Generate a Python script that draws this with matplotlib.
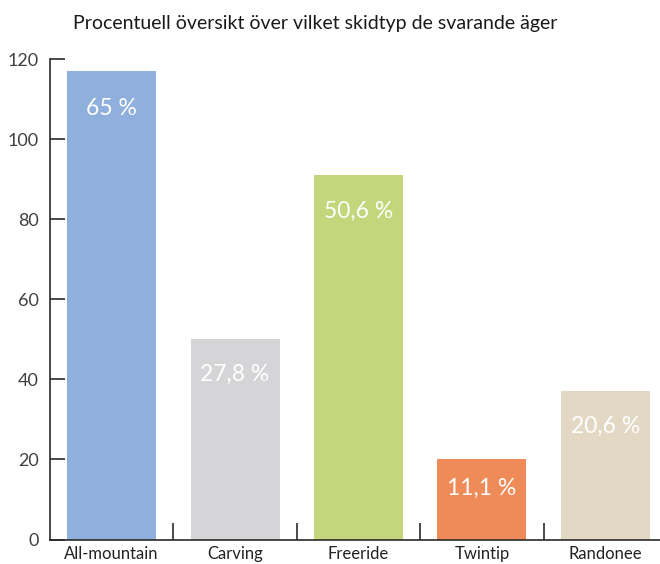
import matplotlib
matplotlib.use("Agg")
import matplotlib.pyplot as plt
from matplotlib.ticker import FixedLocator

categories = ["All-mountain", "Carving", "Freeride", "Twintip", "Randonee"]
counts = [117, 50, 91, 20, 37]
percent_labels = ["65 %", "27,8 %", "50,6 %", "11,1 %", "20,6 %"]
yticks = [0, 20, 40, 60, 80, 100, 120]
title = "Procentuell översikt över vilket skidtyp de svarande äger"

colors = ["#8fb0dc", "#d5d5d7", "#c3d67b", "#ef8b58", "#e3d8c4"]
label_offsets_px = [37, 35, 36, 29, 35]

plt.rcParams["font.family"] = ["Lato", "DejaVu Sans"]

W, H = 660, 564
fig = plt.figure(figsize=(W / 100, H / 100), dpi=100)
left_px, right_px = 50, 667
bottom_px, top_px = 539.5, 59
ax = fig.add_axes([left_px / W, (H - bottom_px) / H,
                   (right_px - left_px) / W, (bottom_px - top_px) / H])

x = list(range(len(categories)))
ax.bar(x, counts, width=0.72, color=colors, zorder=2)

ax.set_xlim(-0.5, 4.5)
ax.set_ylim(0, 120)

for s in ["top", "right"]:
    ax.spines[s].set_visible(False)
for s in ["left", "bottom"]:
    ax.spines[s].set_color("#2b2b2b")
    ax.spines[s].set_linewidth(1.2)

ax.set_yticks(yticks)
ax.set_yticklabels([str(v) for v in yticks])
ax.tick_params(axis="y", direction="in", length=11, width=1.2, color="#2b2b2b",
               labelsize=13, labelcolor="#404040", pad=8)

ax.set_xticks(x)
ax.set_xticklabels(categories)
ax.tick_params(axis="x", which="major", length=0, labelsize=12,
               labelcolor="#222222", pad=5)
ax.xaxis.set_minor_locator(FixedLocator([i + 0.5 for i in x[:-1]]))
ax.tick_params(axis="x", which="minor", direction="in", length=12, width=1.2,
               color="#2b2b2b")

for xi, v, lab, off in zip(x, counts, percent_labels, label_offsets_px):
    ax.annotate(lab, xy=(xi, v), xytext=(0, -off * 0.72), textcoords="offset points",
                ha="center", va="center", color="white", fontsize=16.5, zorder=3)

fig.text(315 / W, 1 - 24 / H, title, ha="center", va="center", fontsize=14,
         color="#1a1a1a")

fig.savefig("out.png", dpi=100)
